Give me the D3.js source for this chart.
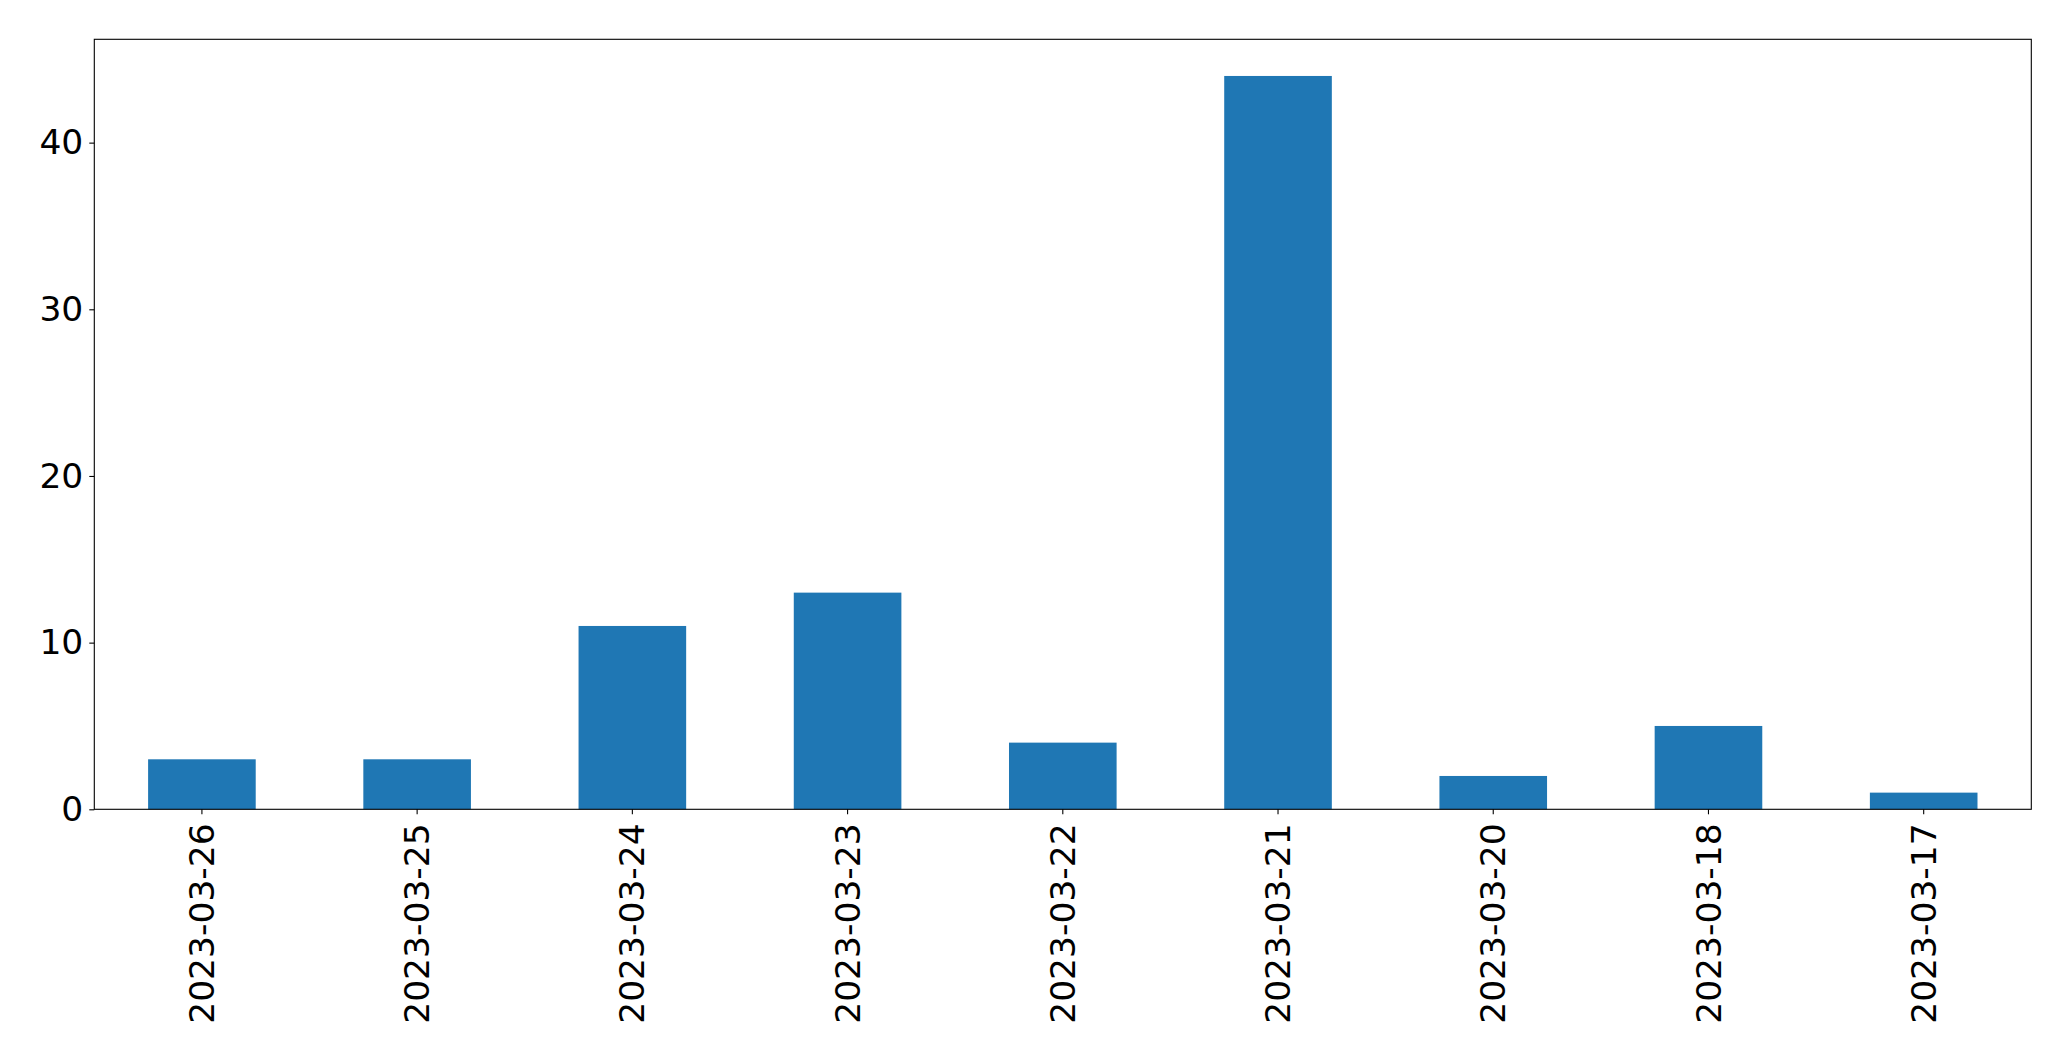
<!DOCTYPE html>
<html>
<head>
<meta charset="utf-8">
<script src="https://cdn.jsdelivr.net/npm/d3@7"></script>
<style>
html,body{margin:0;padding:0;background:#fff;}
svg{display:block;}
text{font-family:"DejaVu Sans",sans-serif;}
</style>
</head>
<body>
<svg id="chart" width="2071" height="1061"></svg>
<script>
const categories = ["2023-03-26","2023-03-25","2023-03-24","2023-03-23","2023-03-22","2023-03-21","2023-03-20","2023-03-18","2023-03-17"];
const values = [3,3,11,13,4,44,2,5,1];
const yTicks = [0,10,20,30,40];

const W = 2071, H = 1061;
const m = {left:94.3, right:W-2031.3, top:39.3, bottom:H-809.3};
const iw = W - m.left - m.right, ih = H - m.top - m.bottom;

const svg = d3.select("#chart");
const g = svg.append("g").attr("transform",`translate(${m.left},${m.top})`);

const x = d3.scaleBand().domain(categories).range([0,iw]).paddingInner(0.5).paddingOuter(0.25);
const yMax = d3.max(values)*1.05;
const y = d3.scaleLinear().domain([0,yMax]).range([ih,0]);

g.selectAll("rect.bar").data(values).enter().append("rect")
  .attr("class","bar")
  .attr("x",(d,i)=>x(categories[i]))
  .attr("width",x.bandwidth())
  .attr("y",d=>y(d))
  .attr("height",d=>ih-y(d))
  .attr("fill","#1f77b4");

const fs = 34.5;
const yAxis = g.append("g").call(d3.axisLeft(y).tickValues(yTicks).tickSize(5).tickPadding(6).tickFormat(d3.format("d")));
yAxis.select(".domain").remove();
yAxis.selectAll("line").attr("stroke","#000").attr("stroke-width",1.1);
yAxis.selectAll("text").attr("font-size",fs).attr("fill","#000").attr("font-family","DejaVu Sans");

const xAxis = g.append("g").attr("transform",`translate(0,${ih})`).call(d3.axisBottom(x).tickSize(5).tickPadding(5));
xAxis.select(".domain").remove();
xAxis.selectAll("line").attr("stroke","#000").attr("stroke-width",1.1);
xAxis.selectAll("text")
  .attr("font-size",fs).attr("fill","#000").attr("font-family","DejaVu Sans")
  .attr("transform","rotate(-90)")
  .attr("text-anchor","end")
  .attr("x",-14)
  .attr("y",0)
  .attr("dy","0.35em");

g.append("rect").attr("x",0).attr("y",0).attr("width",iw).attr("height",ih)
  .attr("fill","none").attr("stroke","#000").attr("stroke-width",1.1);
</script>
</body>
</html>
